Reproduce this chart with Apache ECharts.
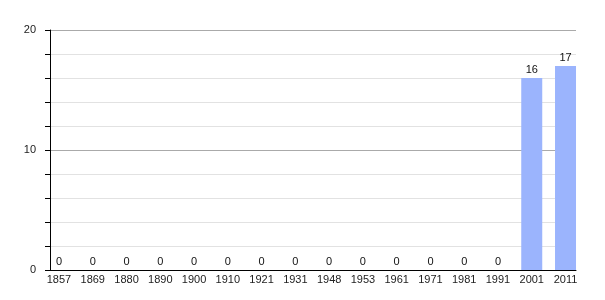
<!DOCTYPE html>
<html>
<head>
<meta charset="utf-8">
<script src="https://cdn.jsdelivr.net/npm/echarts@6/dist/echarts.min.js"></script>
<style>html,body{margin:0;padding:0;background:#fff}#c{width:605px;height:300px}</style>
</head>
<body>
<div id="c"></div>
<script>
var years = ['1857','1869','1880','1890','1900','1910','1921','1931','1948','1953','1961','1971','1981','1991','2001','2011'];
var values = [0,0,0,0,0,0,0,0,0,0,0,0,0,0,16,17];
var yLabels = [0,10,20];

var chart = echarts.init(document.getElementById('c'), null, {renderer:'canvas'});
var font = 'Liberation Sans, Arial, sans-serif';
chart.setOption({
  animation:false,
  backgroundColor:'#fff',
  grid:[
    {left:50, right:29, top:30, bottom:30},
    {left:42.1, right:22.6, top:30, bottom:30}
  ],
  xAxis:[
    {type:'category', gridIndex:0, data:years, axisLine:{lineStyle:{color:'#000',width:1}},
     axisTick:{show:false}, axisLabel:{show:false}, splitLine:{show:false}},
    {type:'category', gridIndex:1, data:years, axisLine:{show:false}, axisTick:{show:false},
     axisLabel:{show:true, interval:0, margin:4, fontSize:11, color:'#222', fontFamily:font}}
  ],
  yAxis:[
    {type:'value', gridIndex:0, min:0, max:20, interval:2,
     axisLine:{show:true, lineStyle:{color:'#000',width:1}},
     axisTick:{show:true, length:5, lineStyle:{color:'#000'}},
     axisLabel:{margin:14, fontSize:11, color:'#222', fontFamily:font,
       formatter:function(v){return yLabels.indexOf(v)>=0 ? String(v) : '';}},
     splitLine:{show:true, lineStyle:{width:1, color:['#aaaaaa','#e2e2e2','#e2e2e2','#e2e2e2','#e2e2e2']}}},
    {type:'value', gridIndex:1, min:0, max:20, show:false, splitLine:{show:false}}
  ],
  series:[{
    type:'bar', xAxisIndex:1, yAxisIndex:1, data:values, barWidth:21,
    itemStyle:{color:'#9bb4fd'},
    label:{show:true, position:'top', distance:3, fontSize:11, color:'#111', fontFamily:font}
  }]
});
</script>
</body>
</html>
